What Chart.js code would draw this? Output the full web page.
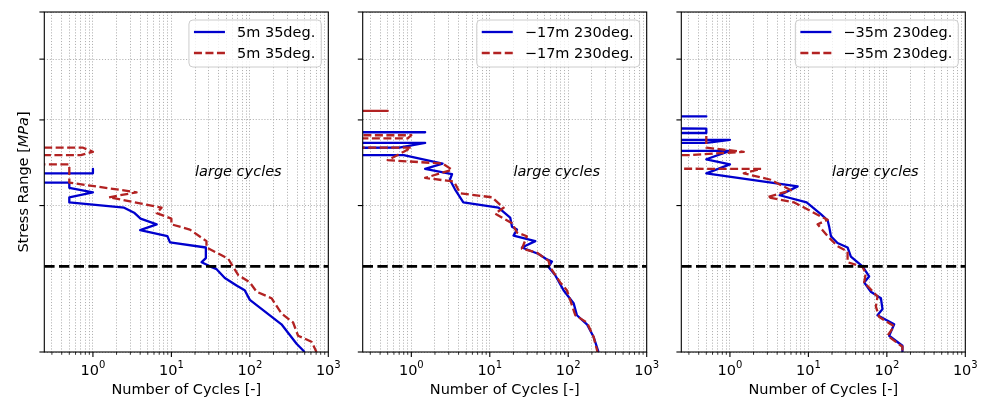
<!DOCTYPE html>
<html lang="en">
<head>
<meta charset="UTF-8">
<title>Stress Range vs Number of Cycles</title>
<style>
  body { margin: 0; background: #fff; }
  #wrap { position: relative; width: 983px; height: 398px; }
  #wrap canvas { position: absolute; left: 0; top: 0; }
</style>
</head>
<body>
<div id="wrap">
  <canvas id="c1" width="983" height="398"></canvas>
  <canvas id="c2" width="983" height="398"></canvas>
  <canvas id="c3" width="983" height="398"></canvas>
</div>
<script src="https://cdn.jsdelivr.net/npm/chart.js@4/dist/chart.umd.min.js"></script>
<script>
// ---- data (stress range, top to bottom, with the cycle count at each) ----
const legendLabels = ['5m 35deg.', '\u221217m 230deg.', '\u221235m 230deg.'];

const blue1Stress = [23.8, 23.3, 22.8, 22.3, 21.75, 21.3, 20.8, 20.3, 19.8, 19.3, 18.8, 18.3, 17.8, 17.3, 16.8, 16.4, 15.6, 15.3, 15.0, 14.8, 14.2, 13.7, 13.4, 12.8, 11.4, 10.4, 10.0];
const blue1Cycles = [1, 1, 0, 0.5, 0.5, 1, 0.5, 0.5, 2.5, 3.4, 4.05, 6.5, 4, 8.9, 9.6, 27.5, 27.5, 24.3, 31, 37.7, 48, 67.7, 86, 100, 253, 394, 500];
const red1Stress = [27.0, 26.3, 25.8, 25.4, 24.9, 24.3, 23.3, 22.3, 21.3, 20.8, 19.8, 19.3, 18.8, 18.3, 17.85, 16.9, 16.4, 15.55, 14.4, 13.9, 13.3, 12.9, 12.0, 11.5, 10.8, 10.5, 10.0];
const red1Cycles = [0, 0.75, 1, 0.7, 0, 0.5, 0.5, 0.5, 3.6, 1.6, 7.5, 6.5, 10, 10, 17.2, 28, 28, 53, 71, 100, 122, 189, 253, 356, 412, 611, 707];

const blue2Stress = [29.0, 28.3, 27.6, 26.9, 26.3, 25.9, 25.4, 24.4, 23.8, 23.2, 22.6, 21.6, 20.3, 19.8, 18.9, 18.1, 17.85, 17.35, 16.9, 16.4, 15.9, 15.5, 15.35, 14.95, 14.4, 13.4, 12.6, 11.9, 11.4, 10.75, 10.0];
const blue2Cycles = [0, 1.5, 0, 1.5, 0.7, 0, 0.8, 2.5, 1.5, 3.3, 3.1, 3.6, 4.6, 12.9, 18.2, 19.2, 22.2, 20.1, 38, 25.7, 41.9, 53.5, 62, 56, 68, 87, 117, 129, 173, 210, 243];
const red2Stress = [31.9, 31.3, 30.8, 28.3, 27.9, 27.5, 27.0, 26.3, 25.8, 24.8, 24.4, 23.7, 22.8, 22.4, 21.2, 20.8, 19.8, 19.25, 18.4, 17.6, 17.3, 16.3, 16.0, 15.4, 14.95, 13.9, 13.4, 11.9, 11.5, 10.75, 10.0];
const red2Cycles = [0, 0.5, 0, 0, 1.0, 0.9, 0, 1.0, 0.8, 0.5, 2.5, 3.3, 1.5, 3.5, 4.2, 10.6, 15, 11.7, 19.2, 22.2, 29.7, 25.7, 40, 56, 58.7, 79, 96, 123, 173, 210, 236];

const blue3Stress = [31.0, 30.5, 29.8, 28.8, 28.2, 27.7, 27.3, 26.9, 26.4, 25.9, 24.9, 24.3, 23.3, 21.9, 21.0, 20.3, 19.2, 18.65, 18.1, 17.3, 16.75, 16.4, 15.7, 15.0, 14.3, 13.9, 13.3, 12.9, 12.25, 11.9, 11.4, 10.8, 10.3, 10.0];
const blue3Cycles = [0, 0.5, 0, 0.5, 0.5, 0, 1.0, 0.5, 0, 1.0, 0.5, 1.0, 0.5, 7.3, 4.3, 9.5, 14.4, 17.6, 18.4, 19.4, 23.5, 31.6, 34.8, 49, 59.5, 51.4, 62.5, 84, 88, 76, 124, 107, 158, 158];
const red3Stress = [27.8, 26.3, 25.8, 25.4, 24.5, 23.8, 23.3, 22.6, 21.5, 20.8, 20.3, 19.0, 18.7, 18.3, 17.3, 16.5, 16.1, 15.3, 14.95, 14.5, 13.9, 13.0, 12.4, 11.8, 11.3, 10.8, 10.25, 10.0];
const red3Cycles = [0.5, 0.5, 1.5, 0.3, 0, 2.5, 1.5, 3.3, 6, 3.0, 6.6, 14.4, 17.6, 13.1, 17.6, 23.5, 31.6, 31.6, 49, 53.8, 51.4, 76, 72.5, 80, 124, 102, 158, 158];

const thresholdStress = 15;
const noteText = 'large cycles';
const noteCycles = 20;
const noteStress = 23.0;

const xMin = 0.24, xMax = 1000;
const yMin = 10, yMax = 50;
const xTicks = [0.3, 0.4, 0.5, 0.6, 0.7, 0.8, 0.9, 1, 2, 3, 4, 5, 6, 7, 8, 9, 10, 20, 30, 40, 50, 60, 70, 80, 90, 100, 200, 300, 400, 500, 600, 700, 800, 900, 1000];
const xMajorExponents = [0, 1, 2, 3];
const yTicks = [10, 20, 30, 40, 50];

// ---- styles ----
const FONT = '"DejaVu Sans", sans-serif';
const FS = '14.5px ';
const BLUE = '#0000cd';
const RED = '#b22222';
const LW = 2.3;
const RED_DASH = [8, 3.5];
const ZERO_COUNT = 1e-100; // matplotlib clips 0 far off the left of a log axis

function toPoints(cycles, stress) {
  return cycles.map((n, i) => ({ x: n > 0 ? n : ZERO_COUNT, y: stress[i] }));
}

function roundRect(ctx, x, y, w, h, r) {
  ctx.beginPath();
  ctx.moveTo(x + r, y);
  ctx.arcTo(x + w, y, x + w, y + h, r);
  ctx.arcTo(x + w, y + h, x, y + h, r);
  ctx.arcTo(x, y + h, x, y, r);
  ctx.arcTo(x, y, x + w, y, r);
  ctx.closePath();
}

const decor = {
  id: 'decor',
  afterDraw(chart, args, opts) {
    const ctx = chart.ctx;
    const a = chart.chartArea;
    const xs = chart.scales.x, ys = chart.scales.y;
    ctx.save();
    ctx.fillStyle = '#000';
    ctx.strokeStyle = '#000';

    // annotation
    ctx.font = 'italic ' + FS + FONT;
    ctx.textAlign = 'left';
    ctx.textBaseline = 'alphabetic';
    ctx.fillText(noteText, xs.getPixelForValue(noteCycles), ys.getPixelForValue(noteStress));

    // spines
    ctx.lineWidth = 1.1;
    ctx.strokeRect(a.left, a.top, a.right - a.left, a.bottom - a.top);

    // x tick marks
    xTicks.forEach(v => {
      const px = xs.getPixelForValue(v);
      const major = xMajorExponents.some(e => Math.abs(Math.pow(10, e) - v) < 1e-9);
      ctx.lineWidth = major ? 1.1 : 0.8;
      ctx.beginPath();
      ctx.moveTo(px, a.bottom);
      ctx.lineTo(px, a.bottom + (major ? 4.9 : 2.8));
      ctx.stroke();
    });
    // y tick marks (labels hidden)
    ctx.lineWidth = 1.1;
    yTicks.forEach(v => {
      const py = ys.getPixelForValue(v);
      ctx.beginPath();
      ctx.moveTo(a.left - 4.9, py);
      ctx.lineTo(a.left, py);
      ctx.stroke();
    });

    // x tick labels 10^n
    xMajorExponents.forEach(e => {
      const px = xs.getPixelForValue(Math.pow(10, e));
      ctx.font = FS + FONT;
      const w1 = ctx.measureText('10').width;
      ctx.font = '10px ' + FONT;
      const w2 = ctx.measureText(String(e)).width;
      const x0 = px - (w1 + w2) / 2;
      ctx.font = FS + FONT;
      ctx.fillText('10', x0, a.bottom + 23.4);
      ctx.font = '10px ' + FONT;
      ctx.fillText(String(e), x0 + w1, a.bottom + 15.8);
    });

    // x title
    ctx.font = FS + FONT;
    ctx.textAlign = 'center';
    ctx.fillText('Number of Cycles [-]', (a.left + a.right) / 2, a.bottom + 42);

    // y title with italic unit
    if (opts.yTitle) {
      const parts = [['Stress Range [', ''], ['MPa', 'italic '], [']', '']];
      let total = 0;
      const widths = parts.map(p => {
        ctx.font = p[1] + FS + FONT;
        const w = ctx.measureText(p[0]).width;
        total += w;
        return w;
      });
      ctx.save();
      ctx.translate(27.5, (a.top + a.bottom) / 2);
      ctx.rotate(-Math.PI / 2);
      ctx.textAlign = 'left';
      let x = -total / 2;
      parts.forEach((p, i) => {
        ctx.font = p[1] + FS + FONT;
        ctx.fillText(p[0], x, 0);
        x += widths[i];
      });
      ctx.restore();
    }

    // legend
    ctx.font = FS + FONT;
    ctx.textAlign = 'left';
    const tw = ctx.measureText(opts.label).width;
    const w = 48 + tw + 6, h = 47;
    const bx = a.right - 7 - w, by = a.top + 8;
    roundRect(ctx, bx, by, w, h, 4);
    ctx.fillStyle = 'rgba(255,255,255,0.8)';
    ctx.fill();
    ctx.strokeStyle = '#cccccc';
    ctx.lineWidth = 1;
    ctx.stroke();
    [[BLUE, [], 12], [RED, RED_DASH, 33]].forEach(([col, dash, dy]) => {
      ctx.strokeStyle = col;
      ctx.lineWidth = LW;
      ctx.setLineDash(dash);
      ctx.beginPath();
      ctx.moveTo(bx + 5, by + dy);
      ctx.lineTo(bx + 36, by + dy);
      ctx.stroke();
      ctx.setLineDash([]);
      ctx.fillStyle = '#000';
      ctx.fillText(opts.label, bx + 48, by + dy + 5);
    });
    ctx.restore();
  }
};

const panels = [
  { id: 'c1', label: legendLabels[0], blue: toPoints(blue1Cycles, blue1Stress), red: toPoints(red1Cycles, red1Stress), left: 44.3, right: 328.3, yTitle: true },
  { id: 'c2', label: legendLabels[1], blue: toPoints(blue2Cycles, blue2Stress), red: toPoints(red2Cycles, red2Stress), left: 362.7, right: 646.7, yTitle: false },
  { id: 'c3', label: legendLabels[2], blue: toPoints(blue3Cycles, blue3Stress), red: toPoints(red3Cycles, red3Stress), left: 681.3, right: 965.3, yTitle: false }
];

const gridStyle = { display: true, drawTicks: false, color: '#a8a8a8', lineWidth: 0.9 };

panels.forEach(p => {
  new Chart(document.getElementById(p.id), {
    type: 'scatter',
    data: {
      datasets: [
        {
          data: [{ x: xMin, y: thresholdStress }, { x: xMax, y: thresholdStress }],
          showLine: true, borderColor: '#000', borderWidth: 2.8, borderDash: [10.3, 4.4],
          pointRadius: 0
        },
        {
          data: p.red, showLine: true, borderColor: RED, borderWidth: LW, borderDash: RED_DASH,
          borderJoinStyle: 'round', pointRadius: 0
        },
        {
          data: p.blue, showLine: true, borderColor: BLUE, borderWidth: LW,
          borderJoinStyle: 'round', pointRadius: 0
        }
      ]
    },
    options: {
      responsive: false,
      animation: false,
      events: [],
      layout: { padding: { left: p.left, right: 983 - p.right, top: 12, bottom: 0 } },
      plugins: {
        legend: { display: false },
        tooltip: { enabled: false },
        decor: { label: p.label, yTitle: p.yTitle }
      },
      scales: {
        x: {
          type: 'logarithmic', min: xMin, max: xMax,
          afterBuildTicks: s => { s.ticks = xTicks.map(v => ({ value: v })); },
          afterFit: s => { s.height = 46; },
          ticks: { display: false },
          grid: gridStyle,
          border: { display: false, dash: [1.1, 1.8] }
        },
        y: {
          type: 'logarithmic', min: yMin, max: yMax,
          afterBuildTicks: s => { s.ticks = yTicks.map(v => ({ value: v })); },
          afterFit: s => { s.width = 0; },
          ticks: { display: false },
          grid: gridStyle,
          border: { display: false, dash: [1.1, 1.8] }
        }
      }
    },
    plugins: [decor]
  });
});
</script>
</body>
</html>
